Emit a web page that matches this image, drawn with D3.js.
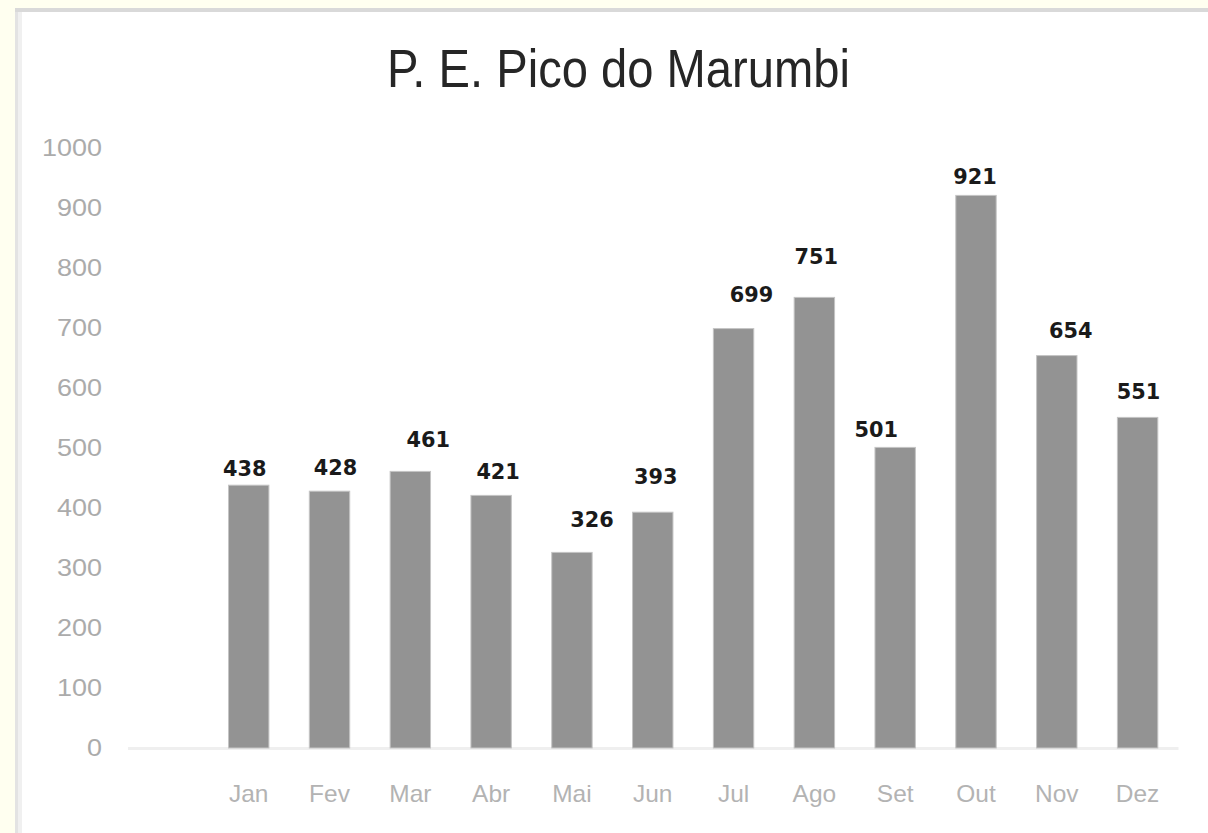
<!DOCTYPE html>
<html>
<head>
<meta charset="utf-8">
<script src="https://cdn.jsdelivr.net/npm/d3@7"></script>
<style>
  body { margin: 0; background: #fffff0; }
  svg { display: block; }
</style>
</head>
<body>
<svg id="chart1" width="1208" height="833"></svg>
<script>
// data
var months = ["Jan", "Fev", "Mar", "Abr", "Mai", "Jun", "Jul", "Ago", "Set", "Out", "Nov", "Dez"];
var visits = [438, 428, 461, 421, 326, 393, 699, 751, 501, 921, 654, 551];
var yTicks = [0, 100, 200, 300, 400, 500, 600, 700, 800, 900, 1000];
var title = "P. E. Pico do Marumbi";

// the original has one empty slot before Jan
var categories = [""].concat(months);

// hand-placed data labels in the original: shift from bar centre / bar top
var labelDx = [-4, 6, 18, 7, 20, 3, 18, 2, -19, -1, 14, 1];
var labelDy = [-16, -23, -31, -23, -32, -35, -34, -40, -17, -18, -25, -25];

var svg = d3.select("svg#chart1");

// panel background + borders
svg.append("rect").attr("x", 0).attr("y", 0).attr("width", 1208).attr("height", 833).attr("fill", "#fffff0");
svg.append("rect").attr("x", 15).attr("y", 8).attr("width", 1193).attr("height", 825).attr("fill", "#ffffff");
svg.append("rect").attr("x", 15).attr("y", 8).attr("width", 1193).attr("height", 4).attr("fill", "#d9d9d9");
svg.append("rect").attr("x", 15).attr("y", 12).attr("width", 3).attr("height", 821).attr("fill", "#e3e3e3");
svg.append("rect").attr("x", 18).attr("y", 12).attr("width", 4).attr("height", 821).attr("fill", "#f0f0f0");

var x = d3.scaleBand()
  .domain(categories)
  .range([127.5, 1178])
  .paddingInner(0.5)
  .paddingOuter(0.25);

var y = d3.scaleLinear()
  .domain([0, 1000])
  .range([748, 148]);

// stretch text to a given width (the original fonts are wider / narrower)
function fitWidth(sel, w) {
  sel.attr("textLength", w).attr("lengthAdjust", "spacingAndGlyphs");
}

// title
var t = svg.append("text")
  .attr("x", 618.5)
  .attr("y", 87)
  .attr("text-anchor", "middle")
  .attr("font-family", "'Liberation Sans', Arial, sans-serif")
  .attr("font-size", 53)
  .attr("fill", "#262626")
  .text(title);
fitWidth(t, 463);

// y axis (labels only)
var yAxis = svg.append("g")
  .attr("transform", "translate(102,0)")
  .call(d3.axisLeft(y).tickValues(yTicks).tickSize(0).tickPadding(0).tickFormat(d3.format("d")));
yAxis.select(".domain").remove();
yAxis.selectAll("text")
  .attr("font-family", "'Liberation Sans', Arial, sans-serif")
  .attr("font-size", 24)
  .attr("fill", "#ababab")
  .each(function(d) {
    var s = String(d);
    fitWidth(d3.select(this), s.length == 1 ? 15 : s.length * 15);
  });

// x axis
var xAxis = svg.append("g")
  .attr("transform", "translate(0,748)")
  .call(d3.axisBottom(x).tickSize(0).tickSizeOuter(0));
xAxis.select(".domain")
  .attr("stroke", "#efefef")
  .attr("stroke-width", 3);
xAxis.selectAll("text")
  .attr("y", 45)
  .attr("dy", null)
  .attr("dominant-baseline", "central")
  .attr("font-family", "'Liberation Sans', Arial, sans-serif")
  .attr("font-size", 24)
  .attr("fill", "#b3b3b3")
  .each(function(d) {
    if (d == "") return;
    var len = this.getComputedTextLength();
    fitWidth(d3.select(this), len * 1.02);
  });

// bars
var bars = svg.append("g").selectAll("rect").data(visits);
bars.enter()
  .append("rect")
  .attr("x", (d, i) => x(months[i]))
  .attr("y", d => y(d))
  .attr("width", x.bandwidth())
  .attr("height", d => y(0) - y(d))
  .attr("fill", "#939393")
  .attr("stroke", "#c4c4c4")
  .attr("stroke-width", 1);

// value labels
var labels = svg.append("g").selectAll("text").data(visits);
labels.enter()
  .append("text")
  .attr("x", (d, i) => x(months[i]) + x.bandwidth() / 2 + labelDx[i])
  .attr("y", (d, i) => y(d) + labelDy[i])
  .attr("text-anchor", "middle")
  .attr("dominant-baseline", "central")
  .attr("font-family", "'DejaVu Sans', sans-serif")
  .attr("font-weight", "bold")
  .attr("font-size", 21)
  .attr("fill", "#1a1a1a")
  .text(d => d)
  .each(function(d) {
    fitWidth(d3.select(this), String(d).length * 14.5);
  });
</script>
</body>
</html>
